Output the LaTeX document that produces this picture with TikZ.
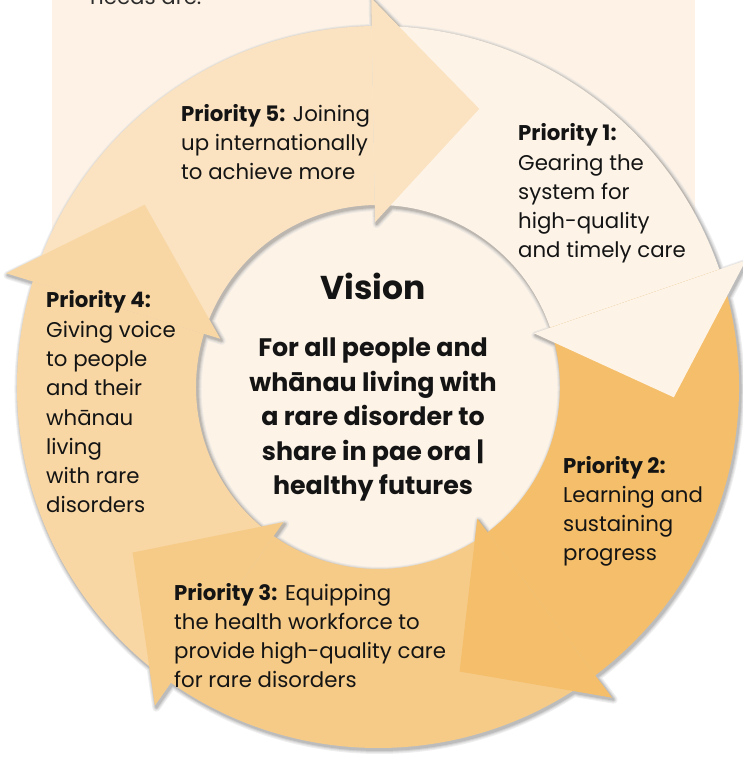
\documentclass[tikz,border=0pt]{standalone}
\usepackage{fontspec}
\setmainfont{Poppins}
\definecolor{bgcream}{HTML}{FDF2E5}
\definecolor{pone}{HTML}{FDF3E7}
\definecolor{ptwo}{HTML}{F4BE6A}
\definecolor{pthree}{HTML}{F6CB88}
\definecolor{pfour}{HTML}{F8D7A4}
\definecolor{pfive}{HTML}{FBE3C1}
\definecolor{inkgray}{HTML}{141414}
\newcommand\ringpiece[1]{(#1+72:361pt) arc[start angle=#1+72, end angle=#1, radius=361pt] -- (#1:182pt) arc[start angle=#1, end angle=#1+72, radius=182pt] -- cycle}
\newcommand\ringtip[1]{(#1:389pt) -- (#1-21:296pt) -- (#1:165pt) -- cycle}
\tikzset{
LABEL/.style={anchor=base west, align=left, inner sep=0pt, text=inkgray, font=\fontsize{21.3}{29.3}\selectfont},
VISIONHEAD/.style={anchor=base, inner sep=0pt, text=inkgray, font=\fontsize{33}{40}\selectfont\bfseries},
VISIONBODY/.style={anchor=base, align=center, inner sep=0pt, text=inkgray, font=\fontsize{25.3}{34.5}\selectfont\bfseries},
}
\begin{document}
\begin{tikzpicture}[x=1pt, y=1pt]
\useasboundingbox (0,0) rectangle (743,757);
\clip (0,0) rectangle (743,757);
\fill[bgcream] (52,217) rectangle (695,757);
\node[LABEL, text=inkgray!90] (needs) at (90,752) {needs are.};
\begin{scope}[shift={(378,370)}]
  \fill[pone] (0,0) circle[radius=182pt];
  \begin{scope}[transparency group, opacity=0.5, shift={(1.5,-2)}]
  \foreach \w/\g in {8/12,6/22,4/36,2/52}
    \foreach \b in {91,19,-53,-125,163}
      \filldraw[draw=black!\g, fill=black!\g, line width=\w pt, line join=round] \ringpiece{\b} \ringtip{\b};
  \end{scope}
  \foreach \b/\c in {91/pfive,19/pone,-53/ptwo,-125/pthree,163/pfour}
    \fill[\c] \ringpiece{\b};
  \foreach \b/\c in {91/pfive,19/pone,-53/ptwo,-125/pthree,163/pfour}
    \fill[\c] \ringtip{\b};
\end{scope}
\node[VISIONHEAD] (vision) at (373,457) {Vision};
\node[VISIONBODY] (visiontext) at (373,262) {For all people and\\wh\=anau living with\\a rare disorder to\\share in pae ora |\\healthy futures};
\node[LABEL] (pfivelabel) at (181,577) {\textbf{Priority 5:} Joining\\up internationally\\to achieve more};
\node[LABEL] (ponelabel) at (518,499) {\textbf{Priority 1:}\\Gearing the\\system for\\high-quality\\and timely care};
\node[LABEL] (ptwolabel) at (563,196) {\textbf{Priority 2:}\\Learning and\\sustaining\\progress};
\node[LABEL] (pthreelabel) at (174,69) {\textbf{Priority 3:} Equipping\\the health workforce to\\provide high-quality care\\for rare disorders};
\node[LABEL] (pfourlabel) at (46,244) {\textbf{Priority 4:}\\Giving voice\\to people\\and their\\wh\=anau\\living\\with rare\\disorders};
\end{tikzpicture}
\end{document}
